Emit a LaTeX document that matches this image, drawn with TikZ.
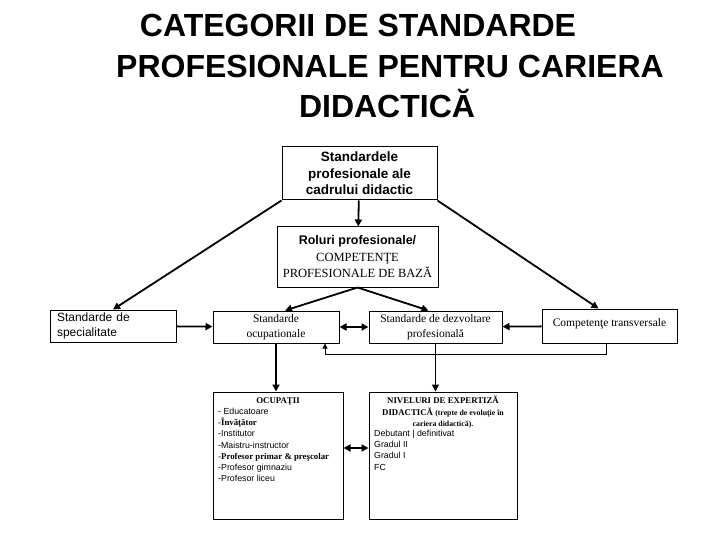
\documentclass[tikz,border=0pt]{standalone}
\usepackage{fontspec}
\setmainfont{Liberation Serif}
\setsansfont{Liberation Sans}
\usetikzlibrary{arrows.meta}
\tikzset{
  box/.style={draw, line width=1pt, inner sep=0pt, align=center},
  arr/.style={-{Triangle[length=7pt,width=7pt]}, line width=1.8pt},
  darr/.style={{Triangle[length=7pt,width=7pt]}-{Triangle[length=7pt,width=7pt]}, line width=1.8pt},
  thinarr/.style={-{Triangle[length=5pt,width=5pt]}, line width=1pt},
  ttl/.style={font=\sffamily\bfseries\fontsize{32}{36}\selectfont, anchor=base, inner sep=0pt},
  big/.style={font=\fontsize{12.5}{16.5}\selectfont},
  mid/.style={font=\fontsize{11.5}{14.5}\selectfont},
  small/.style={font=\sffamily\fontsize{8.8}{11.2}\selectfont, align=left, inner sep=0pt, anchor=north west},
}
\begin{document}
\begin{tikzpicture}[x=1pt,y=-1pt]
\useasboundingbox[fill=white] (0,0) rectangle (720,540);

% title
\node[ttl] (t1) at (358,37) {CATEGORII DE STANDARDE};
\node[ttl] (t2) at (390,78) {PROFESIONALE PENTRU CARIERA};
\node[ttl] (t3) at (387,118) {DIDACTICĂ};

% top boxes
\node[box, minimum width=155pt, minimum height=53pt,
      font=\sffamily\bfseries\fontsize{13.5}{16.5}\selectfont] (b1) at (359.5,173.5)
      {Standardele\\profesionale ale\\cadrului didactic};
\node[box, big, minimum width=161pt, minimum height=60pt] (b2) at (357.5,257)
      {{\sffamily\bfseries Roluri profesionale/}\\COMPETENŢE\\PROFESIONALE DE BAZĂ};

% middle row
\node[box, minimum width=126pt, minimum height=32pt, align=left, text width=116pt,
      font=\sffamily\fontsize{12}{14.5}\selectfont] (spec) at (113,326)
      {\hspace*{2pt}Standarde de\\\hspace*{2pt}specialitate};
\node[box, mid, minimum width=126pt, minimum height=32pt] (ocup) at (276,327)
      {Standarde\\ocupationale};
\node[box, mid, minimum width=133pt, minimum height=32pt] (dezv) at (435.5,327)
      {Standarde de dezvoltare\\profesională};
\node[box, mid, minimum width=135pt, minimum height=34pt] (trans) at (609.5,326)
      {\raisebox{6pt}{Competenţe transversale}};

% bottom boxes
\node[box, minimum width=130pt, minimum height=127pt] (ocp) at (278,455.5) {};
\node[box, minimum width=148pt, minimum height=127pt] (niv) at (443,455.5) {};

\node[font=\bfseries\fontsize{8.8}{11}\selectfont, inner sep=0pt] (ocph) at (278,401) {OCUPAŢII};
\node[small] (ocpl) at (218,408)
  {- Educatoare\\
   {\rmfamily\bfseries -Învăţător}\\
   -Institutor\\
   -Maistru-instructor\\
   {\rmfamily\bfseries -Profesor primar \& preşcolar}\\
   -Profesor gimnaziu\\
   -Profesor liceu};

\node[font=\bfseries\fontsize{8.8}{11.2}\selectfont, align=center, inner sep=0pt, anchor=north] (nivh) at (443,396)
  {NIVELURI DE EXPERTIZĂ\\
   DIDACTICĂ {\fontsize{7.8}{11.2}\selectfont(trepte de evoluţie în}\\
   {\fontsize{7.8}{11.2}\selectfont cariera didactică).}};
\node[small] (nivl) at (374,430)
  {Debutant | definitivat\\
   Gradul II\\
   Gradul I\\
   FC};

% connectors
\draw[arr] (b1) -- (b2);
\draw[arr] (b1.south west) -- (spec.north);
\draw[arr] (b1.south east) -- ([xshift=-11pt]trans.north);
\draw[arr] (b2.south) -- ([xshift=9pt]ocup.north);
\draw[arr] (b2.south) -- ([xshift=-7pt]dezv.north);
\draw[arr] (spec) -- (ocup);
\draw[darr] (ocup) -- (dezv);
\draw[arr] (trans) -- (dezv);
\draw[arr] (ocup.south) -- (ocup.south |- ocp.north);
\draw[arr] (dezv.south) -- (dezv.south |- niv.north);
\draw[darr] ([yshift=7.5pt]ocp.east) -- ([yshift=7.5pt]niv.west);
\draw[thinarr] ([xshift=-3.5pt]trans.south) -- ++(0,11) -| ([xshift=49pt]ocup.south);
\end{tikzpicture}
\end{document}
